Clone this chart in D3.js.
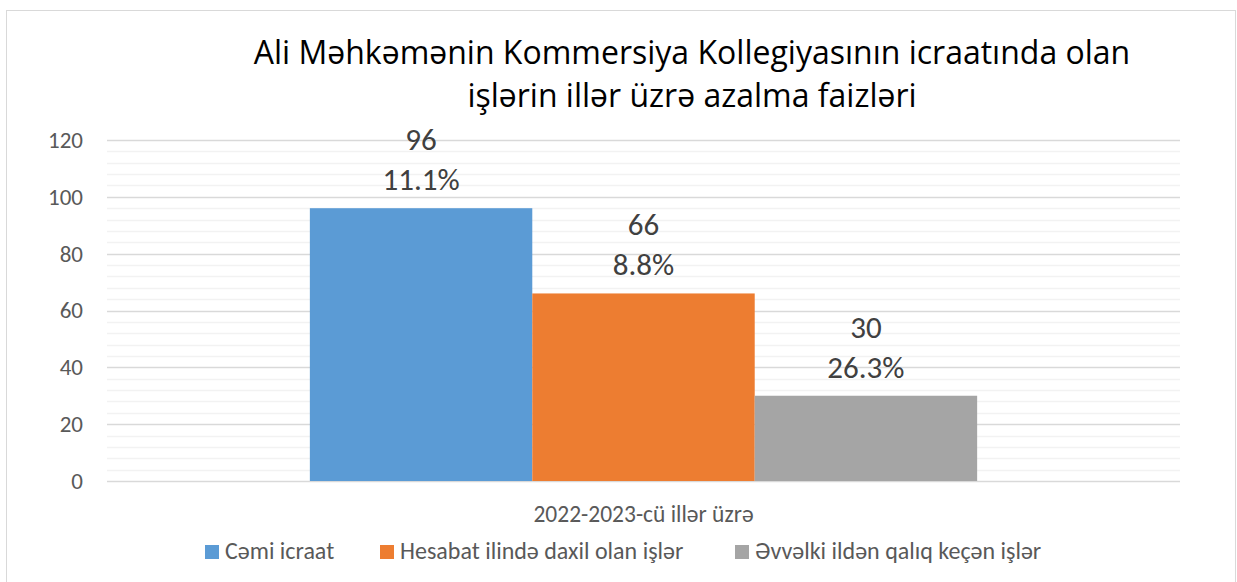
<!DOCTYPE html>
<html>
<head>
<meta charset="utf-8">
<script src="https://cdn.jsdelivr.net/npm/d3@7"></script>
<style>
  body { margin: 0; background: #fff; }
  svg text { font-family: Carlito, Calibri, "Open Sans", sans-serif; }
  svg text.title { font-family: "Open Sans", "Segoe UI", sans-serif; }
</style>
</head>
<body>
<svg width="1237" height="582"></svg>
<script>
const category = "2022-2023-cü illər üzrə";
const seriesNames = ["Cəmi icraat", "Hesabat ilində daxil olan işlər", "Əvvəlki ildən qalıq keçən işlər"];
const seriesValues = [96, 66, 30];
const seriesPercents = ["11.1%", "8.8%", "26.3%"];
const seriesColors = ["#5b9bd5", "#ed7d31", "#a5a5a5"];
const yTicks = [0, 20, 40, 60, 80, 100, 120];
const titleLines = ["Ali Məhkəmənin Kommersiya Kollegiyasının icraatında olan", "işlərin illər üzrə azalma faizləri"];

const svg = d3.select("svg");

// chart area border
svg.append("rect")
  .attr("x", 6.5).attr("y", 10.5)
  .attr("width", 1229).attr("height", 580)
  .attr("fill", "none")
  .attr("stroke", "#d9d9d9");

const margin = { top: 140, left: 107, right: 57, bottom: 101 };
const width = 1237 - margin.left - margin.right,
  height = 582 - margin.top - margin.bottom;

const g = svg.append("g")
  .attr("transform", `translate(${margin.left},${margin.top})`);

const y = d3.scaleLinear().domain([0, 120]).range([height, 0]);

const x0 = d3.scaleBand().domain([category]).range([0, width]).paddingInner(0).paddingOuter(0.304);
const x1 = d3.scaleBand().domain(seriesNames).range([0, x0.bandwidth()]);

// minor gridlines
g.selectAll(".minor")
  .data(d3.range(0, 121, 4).filter(v => v % 20 !== 0))
  .enter().append("line")
  .attr("class", "minor")
  .attr("x1", 0).attr("x2", width)
  .attr("y1", d => Math.round(y(d)) + 0.5)
  .attr("y2", d => Math.round(y(d)) + 0.5)
  .attr("stroke", "#f2f2f2")
  .attr("stroke-width", 1.5);

// major gridlines
g.selectAll(".major")
  .data(yTicks)
  .enter().append("line")
  .attr("class", "major")
  .attr("x1", 0).attr("x2", width)
  .attr("y1", d => Math.round(y(d)) + 0.5)
  .attr("y2", d => Math.round(y(d)) + 0.5)
  .attr("stroke", "#d9d9d9")
  .attr("stroke-width", 1.5);

const yAxis = d3.axisLeft(y).tickValues(yTicks).tickSize(0).tickPadding(24);
const ya = g.append("g").call(yAxis);
ya.select(".domain").remove();
ya.selectAll("text")
  .attr("fill", "#595959")
  .style("font-size", "23px");

const bars = g.append("g")
  .attr("transform", `translate(${x0(category)},0)`);

bars.selectAll("rect")
  .data(seriesValues)
  .enter().append("rect")
  .attr("x", (d, i) => x1(seriesNames[i]))
  .attr("width", x1.bandwidth())
  .attr("y", d => y(d))
  .attr("height", d => height - y(d))
  .attr("fill", (d, i) => seriesColors[i]);

bars.selectAll(".val")
  .data(seriesValues)
  .enter().append("text")
  .attr("class", "val")
  .attr("x", (d, i) => x1(seriesNames[i]) + x1.bandwidth() / 2)
  .attr("y", d => y(d) - 58)
  .attr("text-anchor", "middle")
  .attr("fill", "#404040")
  .style("font-size", "31px")
  .text(d => d);

bars.selectAll(".pct")
  .data(seriesPercents)
  .enter().append("text")
  .attr("class", "pct")
  .attr("x", (d, i) => x1(seriesNames[i]) + x1.bandwidth() / 2)
  .attr("y", (d, i) => y(seriesValues[i]) - 18)
  .attr("text-anchor", "middle")
  .attr("fill", "#404040")
  .style("font-size", "31px")
  .text(d => d);

// category label
g.append("text")
  .attr("x", x0(category) + x0.bandwidth() / 2)
  .attr("y", height + 41)
  .attr("text-anchor", "middle")
  .attr("fill", "#595959")
  .style("font-size", "23.5px")
  .text(category);

// title
svg.append("g").selectAll("text")
  .data(titleLines)
  .enter().append("text")
  .attr("class", "title")
  .attr("x", 692)
  .attr("y", (d, i) => 64 + i * 43)
  .attr("text-anchor", "middle")
  .attr("fill", "#000")
  .style("font-size", "32px")
  .text(d => d);

// legend
const legendX = [205, 380, 735];
const legend = svg.append("g").attr("transform", "translate(0,559)");
const items = legend.selectAll("g")
  .data(seriesNames)
  .enter().append("g")
  .attr("transform", (d, i) => `translate(${legendX[i]},0)`);
items.append("rect")
  .attr("x", 0).attr("y", -14)
  .attr("width", 14).attr("height", 14)
  .attr("fill", (d, i) => seriesColors[i]);
items.append("text")
  .attr("x", 20).attr("y", 0)
  .attr("fill", "#595959")
  .style("font-size", "24px")
  .text(d => d);
</script>
</body>
</html>
